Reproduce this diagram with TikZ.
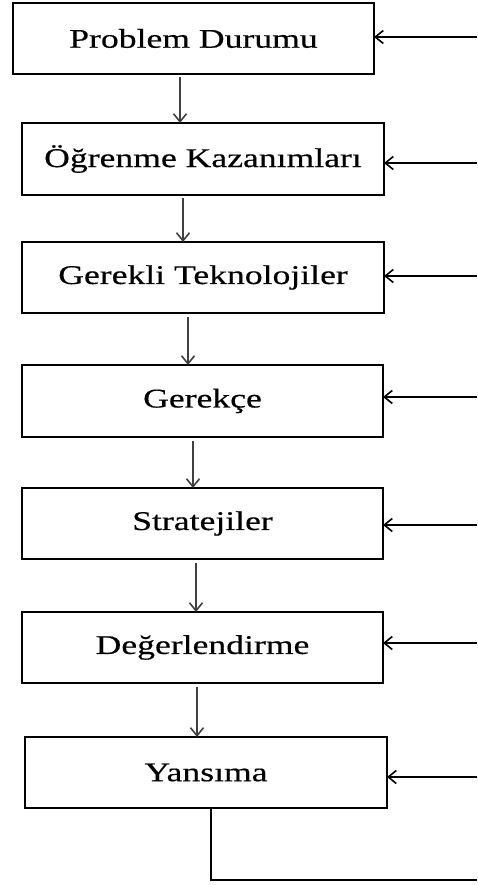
\documentclass[tikz,border=0pt]{standalone}
\usepackage{fontspec}
\setmainfont{Liberation Serif}[FakeStretch=1.32,FakeBold=0.4]
\usetikzlibrary{arrows.meta,calc}

\tikzset{
  stagebox/.style={draw=black, line width=2.4pt, fill=white, inner sep=0pt,
    minimum width=361pt, minimum height=71pt, outer sep=0pt,
    font=\fontsize{27}{32}\selectfont},
  flowarrow/.style={draw=black!75, line width=1.9pt, -{Straight Barb[length=8pt,width=13pt,line width=1.6pt]}},
  feedarrow/.style={draw=black, line width=1.9pt, -{Straight Barb[length=8pt,width=13pt,line width=1.6pt]}},
  feedline/.style={draw=black, line width=2.1pt}
}

\begin{document}
\begin{tikzpicture}[x=1pt,y=-1pt]
\useasboundingbox (0,0) rectangle (477,885);

% stages
\node[stagebox] (b1) at (193.5,38.5) {Problem Durumu};
\node[stagebox, minimum width=362pt, minimum height=72pt] (b2) at (203,159) {Öğrenme Kazanımları};
\node[stagebox, minimum width=362pt] (b3) at (203,277.5) {Gerekli Teknolojiler};
\node[stagebox, minimum height=72pt] (b4) at (202.5,401) {Gerekçe};
\node[stagebox] (b5) at (202.5,523.5) {Stratejiler};
\node[stagebox] (b6) at (202.5,647.5) {Değerlendirme};
\node[stagebox, minimum width=362pt] (b7) at (206,772.5) {Yansıma};

% downward flow
\coordinate (a1) at (180,77);
\coordinate (a2) at (183,198);
\coordinate (a3) at (188,317);
\coordinate (a4) at (193,441);
\coordinate (a5) at (196,563);
\coordinate (a6) at (197,687);
\draw[flowarrow] (a1) -- (a1 |- b2.north);
\draw[flowarrow] (a2) -- (a2 |- b3.north);
\draw[flowarrow] (a3) -- (a3 |- b4.north);
\draw[flowarrow] (a4) -- (a4 |- b5.north);
\draw[flowarrow] (a5) -- (a5 |- b6.north);
\draw[flowarrow] (a6) -- (a6 |- b7.north);

% feedback inputs from the right
\coordinate (r1) at (477,37);
\coordinate (r2) at (477,163);
\coordinate (r3) at (477,276);
\coordinate (r4) at (477,397);
\coordinate (r5) at (477,525);
\coordinate (r6) at (477,643);
\coordinate (r7) at (477,777);
\draw[feedarrow] (r1) -- (r1 -| b1.east);
\draw[feedarrow] (r2) -- (r2 -| b2.east);
\draw[feedarrow] (r3) -- (r3 -| b3.east);
\draw[feedarrow] (r4) -- (r4 -| b4.east);
\draw[feedarrow] (r5) -- (r5 -| b5.east);
\draw[feedarrow] (r6) -- (r6 -| b6.east);
\draw[feedarrow] (r7) -- (r7 -| b7.east);

% return line below the last stage
\coordinate (f1) at (211,880);
\coordinate (f2) at (477,880);
\draw[feedline] (b7.south -| f1) -- (f1) -- (f2);
\end{tikzpicture}
\end{document}
